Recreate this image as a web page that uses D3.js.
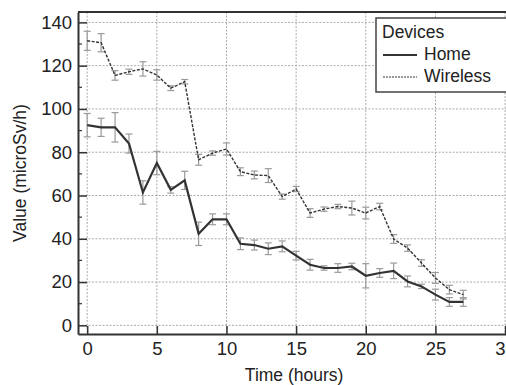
<!DOCTYPE html>
<html>
<head>
<meta charset="utf-8">
<script src="https://cdn.jsdelivr.net/npm/d3@7"></script>
<style>
  body { margin: 0; background: #fff; }
  svg { display: block; overflow: hidden; }
  text { font-family: "Liberation Sans", Arial, sans-serif; fill: #222; }
</style>
</head>
<body>
<div id="my_dataviz"></div>
<script>
const width = 506
const height = 385

// data
const hours = [0,1,2,3,4,5,6,7,8,9,10,11,12,13,14,15,16,17,18,19,20,21,22,23,24,25,26,27]
const home = [92.5,91.5,91.5,84,61.4,75,62.6,67,42.3,49,49,37.7,37.1,35.4,36.5,32.2,28,26.5,26.5,27.2,22.9,24.2,25.2,20.3,18,14.2,10.8,10.8]
const homeErr = [5.4,4.2,6.8,4.4,5.4,5.4,1.5,4.2,5.4,2.5,2.5,2.7,2.3,2.7,2.5,2,2.5,1,2,1.5,5.6,2,3.6,2.5,1,2.5,2,2]
const wireless = [131.5,130.6,115.5,117.2,118.5,115.7,109.6,112.6,76.5,79.6,81.5,71,69.5,69.2,59.5,63,51.9,53.7,54.9,54.2,51.9,54.9,39.9,35.7,28.8,21.9,16.5,14.2]
const wirelessErr = [4.4,4.2,2.2,1.2,3.3,2.4,1.1,1,2.5,1,2.8,1.8,1.8,3.2,1.2,1.2,2,1,1,3.2,2.7,1.5,2,1.5,1.5,2.5,2,2]
const xTicks = [0,5,10,15,20,25,30]
const yTicks = [0,20,40,60,80,100,120,140]
const yMinor = [10,30,50,70,90,110,130]
const seriesNames = ["Home", "Wireless"]

const svg = d3.select("#my_dataviz")
  .append("svg")
    .attr("width", width)
    .attr("height", height)

const x = d3.scaleLinear().domain([-0.66, 31]).range([78, 519])
const y = d3.scaleLinear().domain([-4, 144.8]).range([334, 12])

// grid
const grid = svg.append("g")
grid.selectAll(".gx").data(xTicks).join("line")
  .attr("x1", d => x(d)).attr("x2", d => x(d))
  .attr("y1", y.range()[1]).attr("y2", y.range()[0])
  .attr("stroke", "#aaa").attr("stroke-width", 1).attr("stroke-dasharray", "2,1.5")
grid.selectAll(".gy").data(yTicks).join("line")
  .attr("x1", x.range()[0]).attr("x2", x.range()[1])
  .attr("y1", d => y(d)).attr("y2", d => y(d))
  .attr("stroke", "#aaa").attr("stroke-width", 1).attr("stroke-dasharray", "2,1.5")

// error bars
function errorBars(vals, errs) {
  const g = svg.append("g").attr("stroke", "#9a9a9a").attr("stroke-width", 1.2)
  const rows = hours.map((h, i) => ({ h: h, v: vals[i], e: errs[i] }))
  g.selectAll(".v").data(rows).join("line")
    .attr("x1", d => x(d.h)).attr("x2", d => x(d.h))
    .attr("y1", d => y(d.v - d.e)).attr("y2", d => y(d.v + d.e))
  g.selectAll(".t").data(rows).join("line")
    .attr("x1", d => x(d.h) - 3.5).attr("x2", d => x(d.h) + 3.5)
    .attr("y1", d => y(d.v + d.e)).attr("y2", d => y(d.v + d.e))
  g.selectAll(".b").data(rows).join("line")
    .attr("x1", d => x(d.h) - 3.5).attr("x2", d => x(d.h) + 3.5)
    .attr("y1", d => y(d.v - d.e)).attr("y2", d => y(d.v - d.e))
}
errorBars(wireless, wirelessErr)
errorBars(home, homeErr)

const line = d3.line().x((d, i) => x(hours[i])).y(d => y(d))

svg.append("path").datum(wireless)
  .attr("d", line).attr("fill", "none")
  .attr("stroke", "#333").attr("stroke-width", 1.4).attr("stroke-dasharray", "3,1.5")
svg.append("path").datum(home)
  .attr("d", line).attr("fill", "none")
  .attr("stroke", "#333").attr("stroke-width", 2.2)

// frame
svg.append("line").attr("x1", x.range()[0]).attr("x2", x.range()[1])
  .attr("y1", y.range()[1]).attr("y2", y.range()[1])
  .attr("stroke", "#333").attr("stroke-width", 2)

// axes
const xAxis = svg.append("g")
  .attr("transform", `translate(0,${y.range()[0]})`)
  .call(d3.axisBottom(x).tickValues(xTicks).tickSizeInner(-8).tickSizeOuter(0).tickPadding(8))
xAxis.select(".domain").attr("stroke", "#333").attr("stroke-width", 2)
xAxis.selectAll(".tick line").attr("stroke", "#333").attr("stroke-width", 1.5)
xAxis.selectAll(".tick text").attr("font-size", 18.5).attr("fill", "#222")

const yAxis = svg.append("g")
  .attr("transform", `translate(${x.range()[0]},0)`)
  .call(d3.axisLeft(y).tickValues(yTicks).tickSizeInner(-9).tickSizeOuter(0).tickPadding(6))
yAxis.select(".domain").attr("stroke", "#333").attr("stroke-width", 2)
yAxis.selectAll(".tick line").attr("stroke", "#333").attr("stroke-width", 1.5)
yAxis.selectAll(".tick text").attr("font-size", 18.5).attr("fill", "#222")

svg.append("g").selectAll("line").data(yMinor).join("line")
  .attr("x1", x.range()[0]).attr("x2", x.range()[0] + 4)
  .attr("y1", d => y(d)).attr("y2", d => y(d))
  .attr("stroke", "#333").attr("stroke-width", 1.2)

// axis titles
svg.append("text")
  .attr("x", (x(0) + x(30)) / 2 - 2).attr("y", 381)
  .attr("text-anchor", "middle").attr("font-size", 17.5)
  .text("Time (hours)")
svg.append("text")
  .attr("transform", `translate(26,${(y.range()[0] + y.range()[1]) / 2}) rotate(-90)`)
  .attr("text-anchor", "middle").attr("font-size", 17.5)
  .text("Value (microSv/h)")

// legend
const legend = svg.append("g").attr("transform", "translate(376,18)")
legend.append("rect").attr("width", 140).attr("height", 74)
  .attr("fill", "#fff").attr("stroke", "#444").attr("stroke-width", 1.5)
legend.append("text").attr("x", 6).attr("y", 20).attr("font-size", 17.5).text("Devices")
legend.selectAll(".item").data(seriesNames).join("g")
  .each(function(name, i) {
    const g = d3.select(this)
    g.append("line").attr("x1", 7).attr("x2", 41)
      .attr("y1", 37 + i * 22).attr("y2", 37 + i * 22)
      .attr("stroke", "#333").attr("stroke-width", i === 0 ? 1.8 : 1.2)
      .attr("stroke-dasharray", i === 0 ? null : "2,1")
    g.append("text").attr("x", 48).attr("y", 42 + i * 22).attr("font-size", 17.5).text(name)
  })
</script>
</body>
</html>
